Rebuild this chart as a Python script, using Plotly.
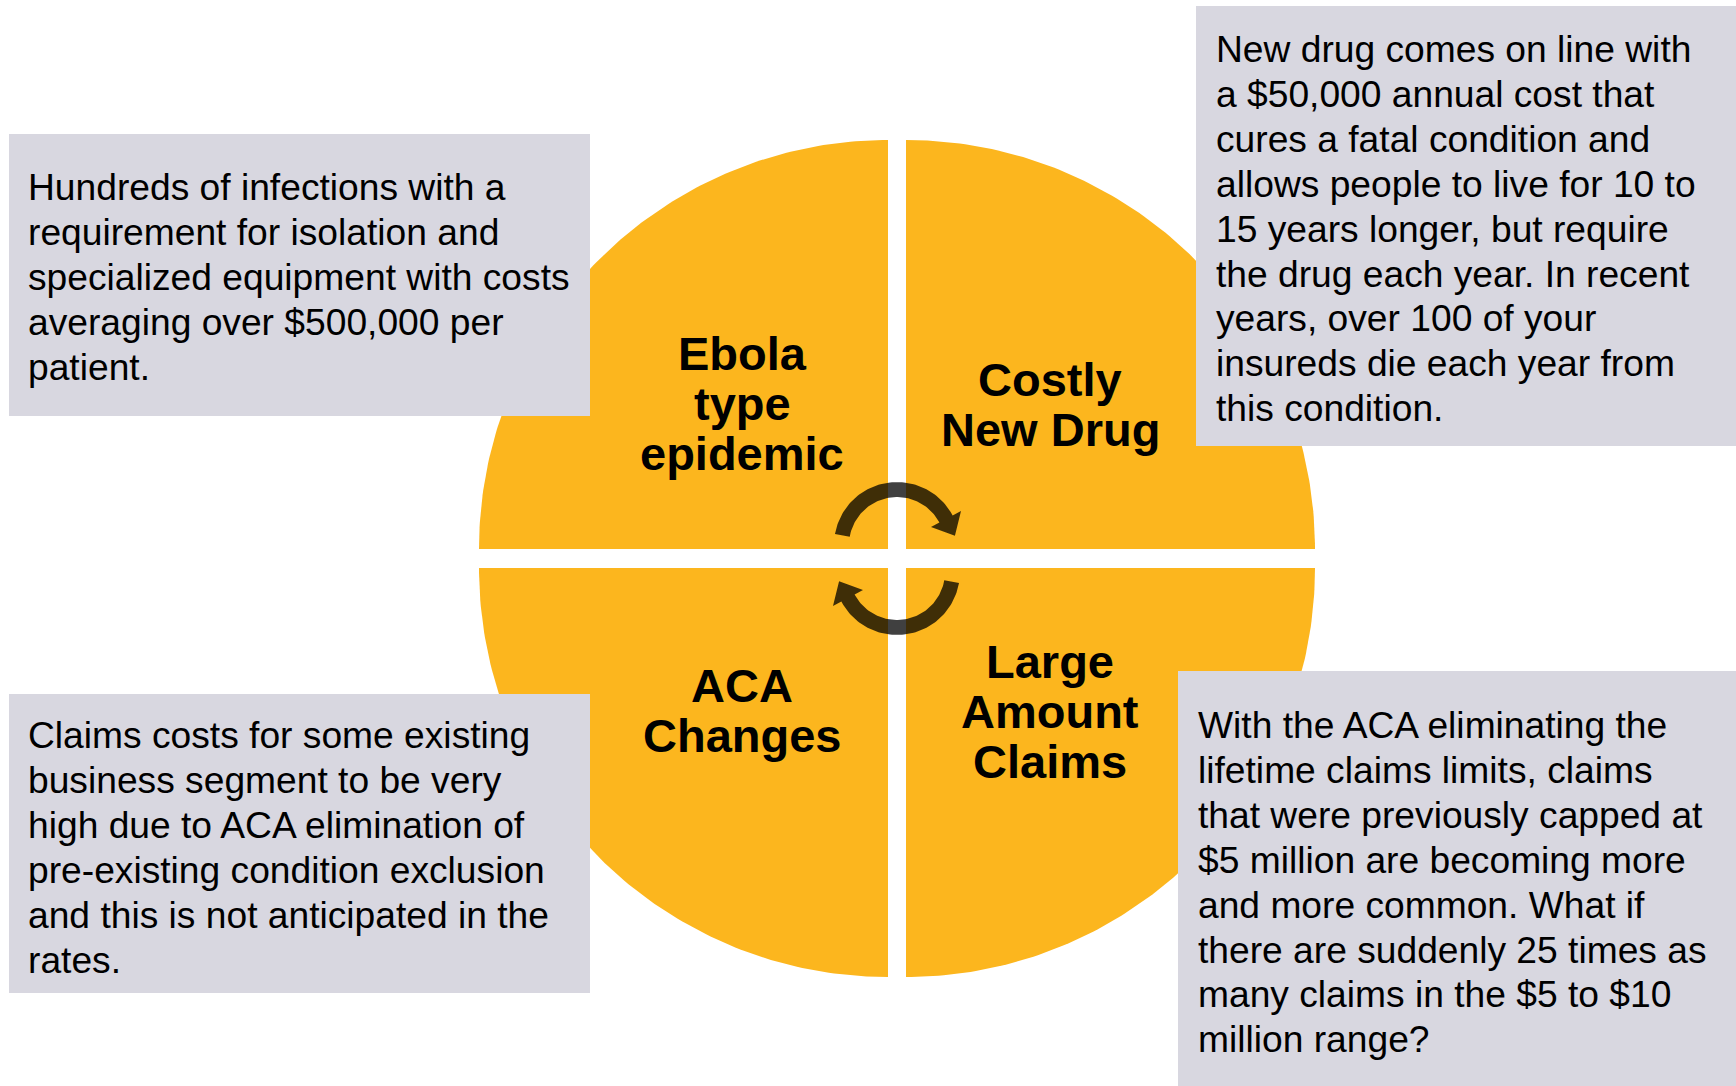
import numpy as np
import plotly.graph_objects as go

# ---- content -------------------------------------------------------------
quadrant_labels = [
    ["Ebola", "type", "epidemic"],
    ["Costly", "New Drug"],
    ["ACA", "Changes"],
    ["Large", "Amount", "Claims"],
]

note_ebola = [
    "Hundreds of infections with a",
    "requirement for isolation and",
    "specialized equipment with costs",
    "averaging over $500,000 per",
    "patient.",
]
note_drug = [
    "New drug comes on line with",
    "a $50,000 annual cost that",
    "cures a fatal condition and",
    "allows people to live for 10 to",
    "15 years longer, but require",
    "the drug each year. In recent",
    "years, over 100 of your",
    "insureds die each year from",
    "this condition.",
]
note_aca = [
    "Claims costs for some existing",
    "business segment to be very",
    "high due to ACA elimination of",
    "pre-existing condition exclusion",
    "and this is not anticipated in the",
    "rates.",
]
note_claims = [
    "With the ACA eliminating the",
    "lifetime claims limits, claims",
    "that were previously capped at",
    "$5 million are becoming more",
    "and more common. What if",
    "there are suddenly 25 times as",
    "many claims in the $5 to $10",
    "million range?",
]

# ---- page geometry (pixel space) ------------------------------------------
W, H = 1736, 1086
ORANGE = "#FCB61E"
BOX_GREY = "#D8D7E0"
ARROW_FILL = "rgba(0,0,0,0.75)"

CX, CY = 897.0, 558.5        # centre of the wheel
GAP_X, GAP_Y = 9.0, 9.5      # half-widths of the white cross
RADIUS = 409.0               # radius of each quarter

BODY_FONT = "Liberation Sans, Arial, sans-serif"
BODY_SIZE = 37.2
BODY_STEP = 44.9
LABEL_SIZE = 47
LABEL_STEP = 50

fig = go.Figure()


def quarter(cx, cy, a0, a1):
    a = np.radians(np.linspace(a0, a1, 120))
    xs = np.concatenate([[cx], cx + RADIUS * np.cos(a), [cx]])
    ys = np.concatenate([[cy], cy - RADIUS * np.sin(a), [cy]])
    return xs, ys


quarters = [
    (CX - GAP_X, CY - GAP_Y, 90, 180),
    (CX + GAP_X, CY - GAP_Y, 0, 90),
    (CX - GAP_X, CY + GAP_Y, 180, 270),
    (CX + GAP_X, CY + GAP_Y, 270, 360),
]
for qx, qy, a0, a1 in quarters:
    xs, ys = quarter(qx, qy, a0, a1)
    fig.add_trace(go.Scatter(x=xs, y=ys, mode="lines", fill="toself",
                             fillcolor=ORANGE, line=dict(width=0),
                             hoverinfo="skip", showlegend=False))


# ---- circular arrows ---------------------------------------------------------
def arrow_outline(acx, acy, r_in, r_out, start, end, head_half, head_len):
    """Clockwise arc band from `start` to `end` degrees with a head at `end`."""
    a = np.radians(np.linspace(start, end, 80))
    ox = acx + r_out * np.cos(a)
    oy = acy - r_out * np.sin(a)
    ix = acx + r_in * np.cos(a[::-1])
    iy = acy - r_in * np.sin(a[::-1])
    e = np.radians(end)
    rm = (r_in + r_out) / 2
    bx, by = acx + rm * np.cos(e), acy - rm * np.sin(e)
    ux, uy = np.cos(e), -np.sin(e)          # radial direction (screen)
    tx, ty = np.sin(e), np.cos(e)           # clockwise tangent (screen)
    wing_out = (bx + head_half * ux, by + head_half * uy)
    tip = (bx + head_len * tx, by + head_len * ty)
    wing_in = (bx - head_half * ux, by - head_half * uy)
    xs = np.concatenate([ox, [wing_out[0], tip[0], wing_in[0]], ix, [ox[0]]])
    ys = np.concatenate([oy, [wing_out[1], tip[1], wing_in[1]], iy, [oy[0]]])
    return xs, ys


ARC_CY_OFFSET = 13.5
top_x, top_y = arrow_outline(CX, CY - ARC_CY_OFFSET, 48, 63, 170, 28, 17, 19)
bot_x, bot_y = 2 * CX - top_x, 2 * CY - top_y
for xs, ys in [(top_x, top_y), (bot_x, bot_y)]:
    fig.add_trace(go.Scatter(x=xs, y=ys, mode="lines", fill="toself",
                             fillcolor=ARROW_FILL, line=dict(width=0),
                             hoverinfo="skip", showlegend=False))

# ---- note boxes ---------------------------------------------------------------
boxes = [
    dict(x0=9, x1=590, y0=134, y1=416, text_x=26, text_y=187, lines=note_ebola),
    dict(x0=1196, x1=W, y0=6, y1=446, text_x=1214, text_y=49, lines=note_drug),
    dict(x0=9, x1=590, y0=694, y1=993, text_x=26, text_y=735, lines=note_aca),
    dict(x0=1178, x1=W, y0=671, y1=H, text_x=1196, text_y=725, lines=note_claims),
]
for b in boxes:
    fig.add_shape(type="rect", xref="x", yref="y", x0=b["x0"], x1=b["x1"],
                  y0=b["y0"], y1=b["y1"], fillcolor=BOX_GREY,
                  line=dict(width=0), layer="above")
    for i, line in enumerate(b["lines"]):
        fig.add_annotation(x=b["text_x"], y=b["text_y"] + i * BODY_STEP,
                           xref="x", yref="y", text=line, showarrow=False,
                           xanchor="left", yanchor="middle",
                           font=dict(family=BODY_FONT, size=BODY_SIZE,
                                     color="#000000"))

# ---- quadrant titles --------------------------------------------------------------
label_anchor = [(742, 353), (1050, 379), (742, 685), (1050, 661)]
for (lx, ly), words in zip(label_anchor, quadrant_labels):
    for i, w in enumerate(words):
        fig.add_annotation(x=lx, y=ly + i * LABEL_STEP, xref="x", yref="y",
                           text=f"<b>{w}</b>", showarrow=False,
                           xanchor="center", yanchor="middle",
                           font=dict(family=BODY_FONT, size=LABEL_SIZE,
                                     color="#000000"))

fig.update_layout(
    width=W, height=H,
    margin=dict(l=0, r=0, t=0, b=0),
    paper_bgcolor="#FFFFFF", plot_bgcolor="#FFFFFF",
    xaxis=dict(range=[0, W], visible=False, fixedrange=True),
    yaxis=dict(range=[H, 0], visible=False, fixedrange=True),
    showlegend=False,
)

fig.write_html("out.html", config={"displayModeBar": False})
